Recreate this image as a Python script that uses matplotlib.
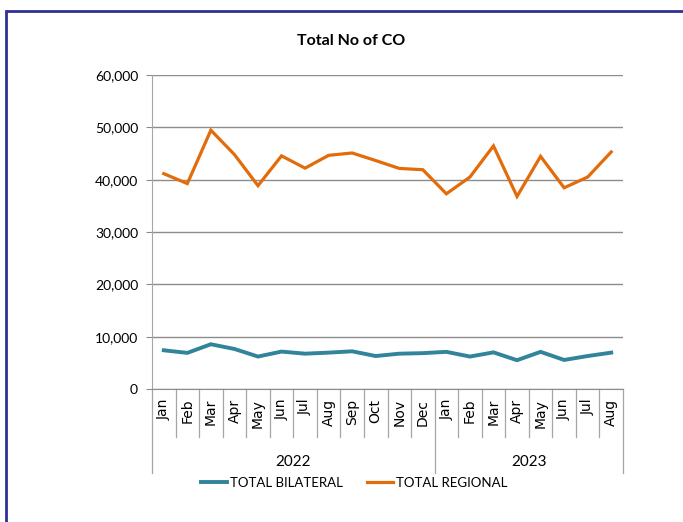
import matplotlib
matplotlib.use("Agg")
import matplotlib.pyplot as plt
import matplotlib.transforms as mtransforms
from matplotlib.patches import Rectangle

months = ["Jan", "Feb", "Mar", "Apr", "May", "Jun", "Jul", "Aug", "Sep", "Oct", "Nov", "Dec",
          "Jan", "Feb", "Mar", "Apr", "May", "Jun", "Jul", "Aug"]
years = ["2022", "2023"]
year_counts = [12, 8]
bilateral = [7400, 6900, 8550, 7650, 6200, 7150, 6750, 6950, 7200, 6300, 6750, 6850,
             7100, 6200, 7000, 5500, 7100, 5550, 6300, 6950]
regional = [41150, 39250, 49450, 44800, 38850, 44550, 42200, 44650, 45100, 43650, 42150, 41900,
            37300, 40500, 46450, 36800, 44450, 38450, 40500, 45300]
yticks = [0, 10000, 20000, 30000, 40000, 50000, 60000]
title = "Total No of CO"
series_names = ["TOTAL BILATERAL", "TOTAL REGIONAL"]

plt.rcParams['font.family'] = ['Lato', 'DejaVu Sans']

W, H = 683, 522
fig = plt.figure(figsize=(W / 100, H / 100), dpi=100)
ax = fig.add_axes([152 / W, 1 - 389 / H, (623 - 152) / W, (389 - 75) / H])

# frame border
fig.patches.append(Rectangle((6 / W, -0.1), 1.2, 1 - 11 / H + 0.1, transform=fig.transFigure,
                             fill=False, edgecolor="#2E3192", linewidth=2.0))

x = list(range(len(months)))
teal = "#31849B"
orange = "#E36C0A"
ax.plot(x, bilateral, color=teal, linewidth=2.8, label=series_names[0], solid_joinstyle='miter')
ax.plot(x, regional, color=orange, linewidth=2.3, label=series_names[1], solid_joinstyle='miter')

ax.set_xlim(-0.5, len(months) - 0.5)
ax.set_ylim(0, 60000)
ax.set_yticks(yticks)
ax.set_yticklabels([f"{v:,}" for v in yticks], fontsize=10)
ax.yaxis.grid(True, color="#8C8C8C", linewidth=1.0)
ax.set_axisbelow(True)
ax.tick_params(axis='y', length=4, color="#8C8C8C", pad=6)
for s in ["top", "right"]:
    ax.spines[s].set_visible(False)
ax.spines["left"].set_color("#A6A6A6")
ax.spines["bottom"].set_color("#8C8C8C")

ax.set_xticks(x)
ax.set_xticklabels(months, rotation=90, fontsize=10, family="DejaVu Sans")
ax.tick_params(axis='x', length=0, pad=7)

trans = mtransforms.blended_transform_factory(ax.transData, ax.transAxes)
sep_low = -48 / 314
out_low = -84 / 314
boundaries = [0]
for c in year_counts:
    boundaries.append(boundaries[-1] + c)
for i in range(len(months) + 1):
    xb = i - 0.5
    low = out_low if i in boundaries else sep_low
    ax.plot([xb, xb], [0, low], transform=trans, color="#A6A6A6", linewidth=0.9, clip_on=False)
for yr, a, b in zip(years, boundaries[:-1], boundaries[1:]):
    ax.text((a + b - 1) / 2, -73 / 314, yr, transform=trans, ha="center", va="center", fontsize=11)

fig.text(351 / W, 1 - 41 / H, title, ha="center", va="center", fontsize=11.5, fontweight="bold")

fig.legend(loc="center", bbox_to_anchor=(354 / W, 1 - 483 / H), ncol=2, frameon=False,
           fontsize=9.5, handlelength=2.0, columnspacing=1.8, handletextpad=0.2,
           borderaxespad=0, borderpad=0)

fig.savefig("out.png", dpi=100)
